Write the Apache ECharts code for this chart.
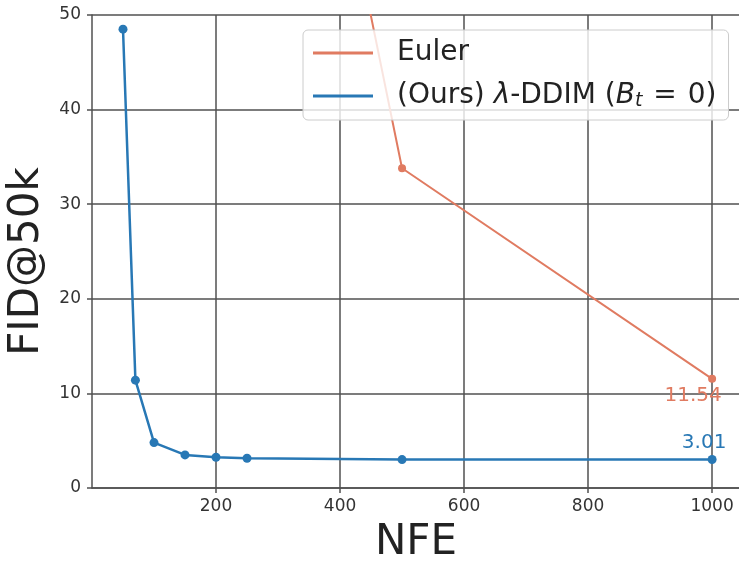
<!DOCTYPE html>
<html>
<head>
<meta charset="utf-8">
<script src="https://cdn.jsdelivr.net/npm/echarts@6/dist/echarts.min.js"></script>
<style>
html,body{margin:0;padding:0;background:#fff;}
#chart{width:739px;height:561px;}
</style>
</head>
<body>
<div id="chart"></div>
<script>
// Data
const eulerNFE = [250, 500, 1000];
const eulerFID = [114, 33.8, 11.54];
const oursNFE = [50, 70, 100, 150, 200, 250, 500, 1000];
const oursFID = [48.5, 11.4, 4.8, 3.5, 3.25, 3.15, 3.0, 3.01];
const seriesNames = ['Euler', '(Ours) λ-DDIM (B_t = 0)'];
const xTicks = [200, 400, 600, 800, 1000];
const yTicks = [0, 10, 20, 30, 40, 50];

const FONT = 'DejaVu Sans';
const ORANGE = '#e07b61';
const BLUE = '#2878b5';
const GRID = '#505050';

function pairs(xs, ys) { return xs.map((x, i) => [x, ys[i]]); }

const chart = echarts.init(document.getElementById('chart'), null, {renderer: 'canvas'});

const lastLabel = (color, offset) => ({
  show: true,
  position: 'inside',
  offset: offset,
  color: color,
  fontFamily: FONT,
  fontSize: 20,
  formatter: p => p.value[1].toFixed(2)
});

const eulerData = pairs(eulerNFE, eulerFID).map((d, i, a) =>
  i === a.length - 1 ? {value: d, label: lastLabel(ORANGE, [-19, 17])} : {value: d});
const oursData = pairs(oursNFE, oursFID).map((d, i, a) =>
  i === a.length - 1 ? {value: d, label: lastLabel(BLUE, [-8, -17])} : {value: d});

chart.setOption({
  animation: false,
  backgroundColor: '#ffffff',
  grid: {left: 92, top: 15, width: 648, height: 473, containLabel: false, outerBoundsMode: 'none'},
  xAxis: {
    type: 'value',
    min: 0, max: 1045, interval: 200,
    name: 'NFE',
    nameLocation: 'middle',
    nameGap: 34,
    nameTextStyle: {fontFamily: FONT, fontSize: 42, color: '#222'},
    axisLine: {show: true, lineStyle: {color: GRID, width: 1.5}},
    axisTick: {show: true, length: 5, customValues: xTicks, lineStyle: {color: GRID, width: 1.5}},
    axisLabel: {
      margin: 10, fontFamily: FONT, fontSize: 17, color: '#333',
      customValues: xTicks,
      formatter: v => String(v)
    },
    splitLine: {show: true, lineStyle: {color: GRID, width: 1.5}}
  },
  yAxis: {
    type: 'value',
    min: 0, max: 50, interval: 10,
    name: 'FID@50k',
    nameLocation: 'middle',
    nameRotate: 90,
    nameGap: 42,
    nameTextStyle: {fontFamily: FONT, fontSize: 42, color: '#222', padding: [0, 20, 0, 0]},
    axisLine: {show: true, lineStyle: {color: GRID, width: 1.5}},
    axisTick: {show: true, length: 5, lineStyle: {color: GRID, width: 1.5}},
    axisLabel: {
      margin: 11, fontFamily: FONT, fontSize: 17, color: '#333',
      formatter: v => yTicks.indexOf(v) >= 0 ? String(v) : ''
    },
    splitLine: {show: true, lineStyle: {color: GRID, width: 1.5}}
  },
  legend: {
    left: 303, top: 30,
    orient: 'vertical',
    icon: 'rect',
    itemWidth: 60, itemHeight: 3,
    itemGap: 13,
    padding: [8, 12, 9, 10],
    backgroundColor: 'rgba(255,255,255,0.8)',
    borderColor: '#cccccc', borderWidth: 1, borderRadius: 5,
    data: seriesNames,
    formatter: name => name === seriesNames[1]
      ? '(Ours) {it|λ}-DDIM ({it|B}{sub|t}{eq|=}{n|0)}'
      : name,
    textStyle: {
      fontFamily: FONT, fontSize: 28, color: '#222', lineHeight: 30,
      padding: [0, 0, 0, 19],
      rich: {
        it: {fontFamily: FONT, fontSize: 28, fontStyle: 'italic', color: '#222', lineHeight: 30},
        sub: {fontFamily: FONT, fontSize: 19, fontStyle: 'italic', color: '#222', lineHeight: 30, verticalAlign: 'bottom'},
        eq: {fontFamily: FONT, fontSize: 28, color: '#222', lineHeight: 30, padding: [0, 11, 0, 11]},
        n: {fontFamily: FONT, fontSize: 28, color: '#222', lineHeight: 30}
      }
    }
  },
  series: [
    {
      name: seriesNames[0], type: 'line', data: eulerData,
      color: ORANGE, clip: true,
      lineStyle: {width: 2, color: ORANGE},
      symbol: 'circle', symbolSize: 8,
      itemStyle: {color: ORANGE},
      z: 3
    },
    {
      name: seriesNames[1], type: 'line', data: oursData,
      color: BLUE, clip: true,
      lineStyle: {width: 2.5, color: BLUE},
      symbol: 'circle', symbolSize: 9,
      itemStyle: {color: BLUE},
      z: 4
    }
  ]
});
</script>
</body>
</html>
